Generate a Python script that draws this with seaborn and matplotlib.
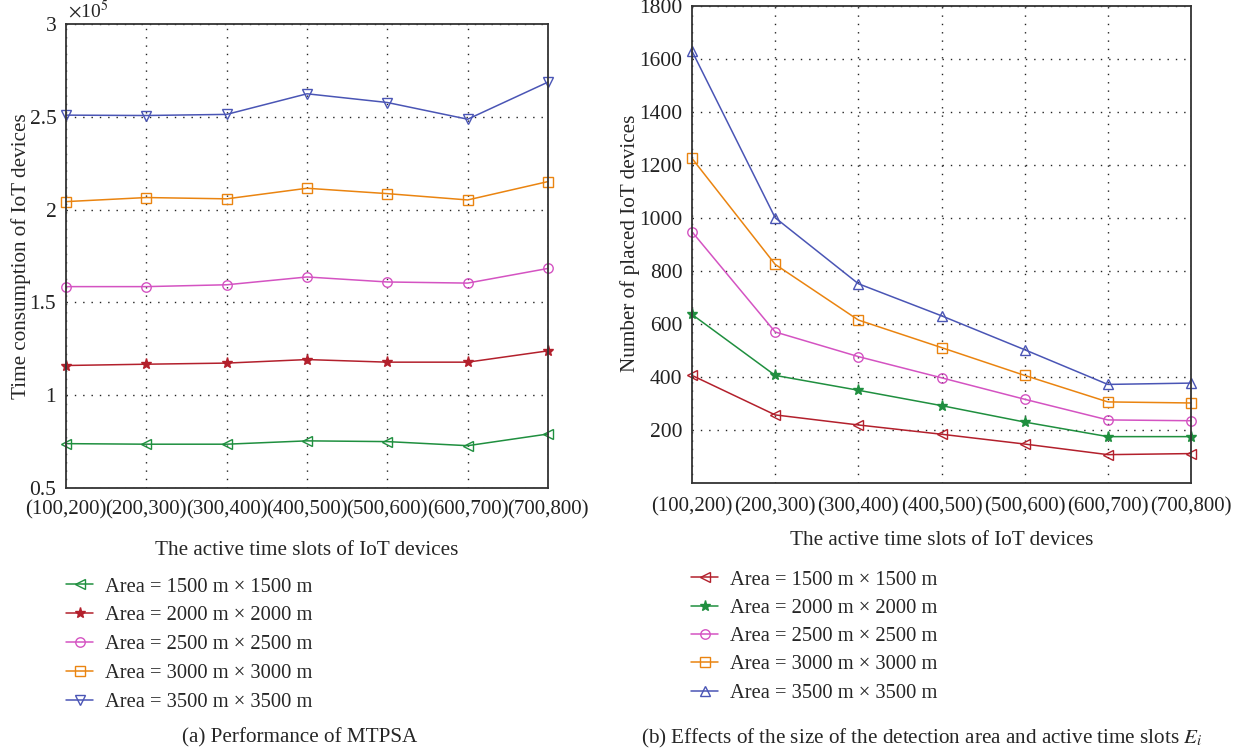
import numpy as np
import pandas as pd
import seaborn as sns
import matplotlib
matplotlib.use("Agg")
import matplotlib.pyplot as plt
from matplotlib.ticker import FuncFormatter, FixedLocator

# ---------------- data ----------------
slots = ["(100,200)", "(200,300)", "(300,400)", "(400,500)", "(500,600)", "(600,700)", "(700,800)"]
areas = ["Area = 1500 m \u00d7 1500 m", "Area = 2000 m \u00d7 2000 m", "Area = 2500 m \u00d7 2500 m",
         "Area = 3000 m \u00d7 3000 m", "Area = 3500 m \u00d7 3500 m"]

# (a) time consumption (units of 1e5)
time_1500 = [0.739, 0.736, 0.736, 0.754, 0.750, 0.728, 0.791]
time_2000 = [1.160, 1.167, 1.173, 1.192, 1.178, 1.178, 1.239]
time_2500 = [1.585, 1.585, 1.595, 1.637, 1.610, 1.604, 1.683]
time_3000 = [2.043, 2.065, 2.058, 2.115, 2.086, 2.052, 2.151]
time_3500 = [2.509, 2.507, 2.513, 2.624, 2.577, 2.487, 2.687]
time_scale = 1e5

# (b) number of placed IoT devices
placed_1500 = [406, 257, 219, 184, 147, 107, 111]
placed_2000 = [636, 406, 350, 292, 230, 175, 175]
placed_2500 = [948, 570, 477, 397, 316, 238, 235]
placed_3000 = [1225, 825, 615, 511, 406, 306, 302]
placed_3500 = [1630, 1001, 752, 631, 503, 372, 377]

xlabel = "The active time slots of IoT devices"
ylabel_a = "Time consumption of IoT devices"
ylabel_b = "Number of placed IoT devices"
caption_a = "(a) Performance of MTPSA"
caption_b = "(b) Effects of the size of the detection area and active time slots $E_i$"

# ---------------- style ----------------
sns.set_style("white")
plt.rcParams["font.family"] = ["Liberation Serif", "DejaVu Serif"]
plt.rcParams["mathtext.fontset"] = "stix"

GREEN = "#1f8f3f"
RED = "#b3202c"
MAGENTA = "#d453c2"
ORANGE = "#ea8410"
BLUE = "#4a55b5"

W, H = 1242, 753
fig = plt.figure(figsize=(W / 100, H / 100), dpi=100)

def ax_rect(x0, y0, x1, y1):
    return [x0 / W, 1 - y1 / H, (x1 - x0) / W, (y1 - y0) / H]

axa = fig.add_axes(ax_rect(66, 24, 548, 488))
axb = fig.add_axes(ax_rect(692, 6, 1191, 483))

def long_df(series):
    rows = []
    for name, vals in series:
        for s, v in zip(slots, vals):
            rows.append({"slot": s, "value": v, "area": name})
    return pd.DataFrame(rows)

xtick_fs = 15
ytick_fs = 15.5
label_fs = 15.2
legend_fs = 14.8
caption_fs = 15.2

def draw(ax, df, styles):
    for name in areas:
        m, c, filled = styles[name]
        sub = df[df["area"] == name]
        sns.lineplot(data=sub, x="slot", y="value", ax=ax, color=c, lw=1.1, marker=m,
                     markersize=8 if m == "*" else 6.8, markerfacecolor=c if filled else "none",
                     markeredgecolor=c, markeredgewidth=1.0, label=name, sort=False,
                     legend=False, clip_on=False)

# ---- (a)
series_a = [(areas[0], [v * time_scale for v in time_1500]),
            (areas[1], [v * time_scale for v in time_2000]),
            (areas[2], [v * time_scale for v in time_2500]),
            (areas[3], [v * time_scale for v in time_3000]),
            (areas[4], [v * time_scale for v in time_3500])]
dfa = long_df(series_a)
sty_a = {areas[0]: ("<", GREEN, False), areas[1]: ("*", RED, True), areas[2]: ("o", MAGENTA, False),
         areas[3]: ("s", ORANGE, False), areas[4]: ("v", BLUE, False)}
draw(axa, dfa, sty_a)
axa.set_xlim(0, len(slots) - 1)
axa.set_ylim(0.5 * time_scale, 3 * time_scale)
axa.yaxis.set_major_locator(FixedLocator([0.5e5, 1e5, 1.5e5, 2e5, 2.5e5, 3e5]))
axa.yaxis.set_major_formatter(FuncFormatter(lambda v, p: f"{v / time_scale:g}"))
axa.text(0.004, 1.004, r"$\times$10$^5$", transform=axa.transAxes, fontsize=14, ha="left", va="bottom")
axa.set_xlabel(xlabel, fontsize=label_fs)
axa.set_ylabel(ylabel_a, fontsize=label_fs)
axa.xaxis.set_label_coords(0.5, (488 - 541) / 464)
axa.yaxis.set_label_coords((31 - 66) / 482, 0.5)

# ---- (b)
series_b = [(areas[0], placed_1500), (areas[1], placed_2000), (areas[2], placed_2500),
            (areas[3], placed_3000), (areas[4], placed_3500)]
dfb = long_df(series_b)
sty_b = {areas[0]: ("<", RED, False), areas[1]: ("*", GREEN, True), areas[2]: ("o", MAGENTA, False),
         areas[3]: ("s", ORANGE, False), areas[4]: ("^", BLUE, False)}
draw(axb, dfb, sty_b)
axb.set_xlim(0, len(slots) - 1)
axb.set_ylim(0, 1800)
axb.yaxis.set_major_locator(FixedLocator([200, 400, 600, 800, 1000, 1200, 1400, 1600, 1800]))
axb.set_xlabel(xlabel, fontsize=label_fs)
axb.set_ylabel(ylabel_b, fontsize=label_fs)
axb.xaxis.set_label_coords(0.5, (483 - 531) / 477)
axb.yaxis.set_label_coords((640 - 692) / 499, (483 - 243) / 477)

for ax in (axa, axb):
    ax.grid(True, color="#222222", linestyle=(0, (1, 5)), linewidth=1.0)
    for sp in ax.spines.values():
        sp.set_visible(True)
        sp.set_color("#333333")
        sp.set_linewidth(1.3)
    ax.tick_params(axis="both", direction="out", length=5, width=1.0, color="#333333",
                   pad=2, labelcolor="#222222")
    ax.tick_params(axis="x", labelsize=xtick_fs, pad=4)
    ax.tick_params(axis="y", labelsize=ytick_fs)
    ax.set_facecolor("white")
axb.tick_params(axis="x", length=7, pad=3)

# legends
handles_a, labels_a = axa.get_legend_handles_labels()
fig.legend(handles_a, labels_a, loc="upper left", bbox_to_anchor=(58 / W, 1 - 569 / H),
           frameon=False, fontsize=legend_fs, handlelength=1.3, handletextpad=0.6,
           labelspacing=0.457, borderaxespad=0)
handles_b, labels_b = axb.get_legend_handles_labels()
fig.legend(handles_b, labels_b, loc="upper left", bbox_to_anchor=(683 / W, 1 - 562 / H),
           frameon=False, fontsize=legend_fs, handlelength=1.3, handletextpad=0.6,
           labelspacing=0.433, borderaxespad=0)

fig.text(300 / W, 1 - 738 / H, caption_a, ha="center", va="center", fontsize=caption_fs)
fig.text(922 / W, 1 - 738 / H, caption_b, ha="center", va="center", fontsize=caption_fs)

fig.savefig("out.png", dpi=100)
